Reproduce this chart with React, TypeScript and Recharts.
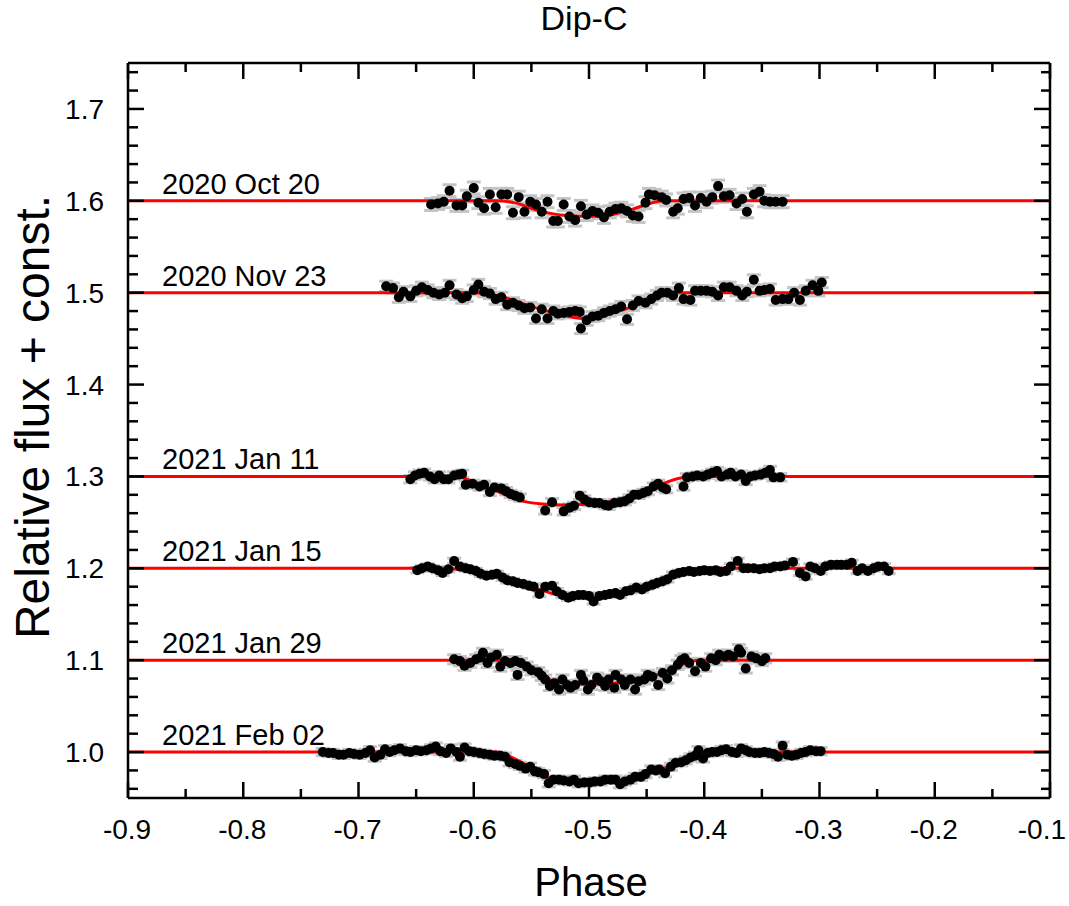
import React from "react";
import {
  ComposedChart,
  XAxis,
  YAxis,
  Scatter,
  Line,
  ErrorBar,
  ReferenceLine
} from "recharts";

type Pt = [number, number];

const FONT = '"Liberation Sans", Arial, Helvetica, sans-serif';

const X_TICKS = [
  -0.9, -0.85, -0.8, -0.75, -0.7, -0.65, -0.6, -0.55, -0.5, -0.45, -0.4,
  -0.35, -0.3, -0.25, -0.2, -0.15, -0.1
];
const Y_TICKS = [
  0.96, 0.98, 1.0, 1.02, 1.04, 1.06, 1.08, 1.1, 1.12, 1.14, 1.16, 1.18, 1.2,
  1.22, 1.24, 1.26, 1.28, 1.3, 1.32, 1.34, 1.36, 1.38, 1.4, 1.42, 1.44, 1.46,
  1.48, 1.5, 1.52, 1.54, 1.56, 1.58, 1.6, 1.62, 1.64, 1.66, 1.68, 1.7, 1.72,
  1.74
];

const DATES = [
  "2020 Oct 20",
  "2020 Nov 23",
  "2021 Jan 11",
  "2021 Jan 15",
  "2021 Jan 29",
  "2021 Feb 02"
];
const OFFSETS = [1.6, 1.5, 1.3, 1.2, 1.1, 1.0];
const ERRORS = [0.0065, 0.0055, 0.004, 0.003, 0.005, 0.004];

// observed points: [phase, relative flux + offset]
const OCT20: Pt[] = [
  [-0.637, 1.596], [-0.631, 1.597], [-0.626, 1.599], [-0.621, 1.611], [-0.615, 1.595],
  [-0.61, 1.595], [-0.606, 1.605], [-0.6, 1.614], [-0.596, 1.598], [-0.591, 1.592],
  [-0.586, 1.607], [-0.581, 1.593], [-0.576, 1.607], [-0.571, 1.607], [-0.566, 1.587],
  [-0.561, 1.604], [-0.556, 1.588], [-0.551, 1.599], [-0.546, 1.596], [-0.541, 1.588],
  [-0.536, 1.599], [-0.531, 1.578], [-0.527, 1.578], [-0.522, 1.596], [-0.517, 1.583],
  [-0.512, 1.579], [-0.507, 1.594], [-0.502, 1.585], [-0.497, 1.589], [-0.492, 1.587],
  [-0.487, 1.582], [-0.482, 1.588], [-0.477, 1.591], [-0.472, 1.592], [-0.467, 1.589],
  [-0.462, 1.584], [-0.457, 1.583], [-0.451, 1.598], [-0.448, 1.607], [-0.443, 1.606],
  [-0.437, 1.604], [-0.433, 1.601], [-0.427, 1.588], [-0.423, 1.592], [-0.418, 1.602],
  [-0.413, 1.603], [-0.408, 1.595], [-0.403, 1.603], [-0.398, 1.599], [-0.393, 1.604],
  [-0.388, 1.616], [-0.383, 1.605], [-0.378, 1.606], [-0.372, 1.597], [-0.367, 1.602],
  [-0.363, 1.588], [-0.357, 1.607], [-0.352, 1.61], [-0.348, 1.6], [-0.343, 1.599],
  [-0.338, 1.599], [-0.332, 1.599]
];

const NOV23: Pt[] = [
  [-0.676, 1.507], [-0.67, 1.505], [-0.665, 1.495], [-0.661, 1.501], [-0.655, 1.496],
  [-0.65, 1.502], [-0.645, 1.506], [-0.64, 1.503], [-0.635, 1.5], [-0.63, 1.498],
  [-0.625, 1.5], [-0.621, 1.508], [-0.615, 1.498], [-0.61, 1.494], [-0.606, 1.496],
  [-0.6, 1.503], [-0.596, 1.509], [-0.591, 1.501], [-0.586, 1.499], [-0.581, 1.493],
  [-0.576, 1.495], [-0.571, 1.487], [-0.566, 1.489], [-0.561, 1.486], [-0.556, 1.483],
  [-0.551, 1.484], [-0.546, 1.472], [-0.541, 1.482], [-0.536, 1.472], [-0.531, 1.48],
  [-0.527, 1.477], [-0.522, 1.478], [-0.517, 1.479], [-0.512, 1.48], [-0.508, 1.479],
  [-0.507, 1.461], [-0.502, 1.47], [-0.497, 1.474], [-0.492, 1.475], [-0.487, 1.478],
  [-0.482, 1.48], [-0.477, 1.482], [-0.472, 1.485], [-0.467, 1.471], [-0.462, 1.486],
  [-0.457, 1.491], [-0.451, 1.489], [-0.446, 1.493], [-0.441, 1.497], [-0.437, 1.5],
  [-0.432, 1.5], [-0.427, 1.497], [-0.422, 1.505], [-0.418, 1.493], [-0.412, 1.492],
  [-0.408, 1.502], [-0.403, 1.502], [-0.398, 1.502], [-0.393, 1.501], [-0.388, 1.497],
  [-0.383, 1.506], [-0.378, 1.506], [-0.372, 1.502], [-0.367, 1.497], [-0.363, 1.501],
  [-0.357, 1.514], [-0.352, 1.502], [-0.348, 1.503], [-0.343, 1.504], [-0.338, 1.492],
  [-0.332, 1.493], [-0.327, 1.493], [-0.322, 1.5], [-0.317, 1.492], [-0.312, 1.502],
  [-0.306, 1.508], [-0.301, 1.502], [-0.298, 1.511]
];

const JAN11: Pt[] = [
  [-0.655, 1.297], [-0.651, 1.301], [-0.647, 1.303], [-0.643, 1.304], [-0.638, 1.3],
  [-0.634, 1.297], [-0.63, 1.301], [-0.626, 1.297], [-0.622, 1.297], [-0.617, 1.301],
  [-0.613, 1.302], [-0.61, 1.303], [-0.607, 1.291], [-0.601, 1.292], [-0.595, 1.289],
  [-0.591, 1.291], [-0.586, 1.283], [-0.582, 1.288], [-0.576, 1.287], [-0.572, 1.284],
  [-0.568, 1.281], [-0.564, 1.279], [-0.56, 1.277], [-0.538, 1.263], [-0.532, 1.272],
  [-0.522, 1.262], [-0.517, 1.266], [-0.513, 1.268], [-0.508, 1.279], [-0.504, 1.275],
  [-0.5, 1.272], [-0.495, 1.271], [-0.491, 1.271], [-0.486, 1.269], [-0.483, 1.268],
  [-0.478, 1.271], [-0.473, 1.272], [-0.469, 1.273], [-0.465, 1.276], [-0.461, 1.28],
  [-0.457, 1.28], [-0.453, 1.282], [-0.449, 1.284], [-0.444, 1.289], [-0.44, 1.292],
  [-0.436, 1.288], [-0.433, 1.286], [-0.418, 1.289], [-0.415, 1.299], [-0.41, 1.3],
  [-0.406, 1.301], [-0.401, 1.3], [-0.397, 1.302], [-0.393, 1.304], [-0.389, 1.306],
  [-0.385, 1.3], [-0.38, 1.302], [-0.377, 1.304], [-0.373, 1.3], [-0.368, 1.302],
  [-0.364, 1.295], [-0.36, 1.3], [-0.356, 1.301], [-0.351, 1.302], [-0.347, 1.304],
  [-0.343, 1.307], [-0.34, 1.299], [-0.334, 1.299]
];

const JAN15: Pt[] = [
  [-0.649, 1.198], [-0.645, 1.2], [-0.64, 1.202], [-0.636, 1.2], [-0.631, 1.198],
  [-0.627, 1.195], [-0.622, 1.199], [-0.617, 1.208], [-0.612, 1.202], [-0.607, 1.2],
  [-0.603, 1.199], [-0.598, 1.197], [-0.594, 1.194], [-0.589, 1.192], [-0.584, 1.193],
  [-0.58, 1.194], [-0.575, 1.19], [-0.571, 1.187], [-0.566, 1.186], [-0.562, 1.184],
  [-0.557, 1.183], [-0.552, 1.181], [-0.548, 1.18], [-0.543, 1.172], [-0.538, 1.18],
  [-0.532, 1.181], [-0.528, 1.175], [-0.523, 1.171], [-0.518, 1.168], [-0.514, 1.17],
  [-0.509, 1.171], [-0.505, 1.171], [-0.5, 1.17], [-0.496, 1.164], [-0.491, 1.17],
  [-0.486, 1.171], [-0.482, 1.172], [-0.477, 1.173], [-0.473, 1.171], [-0.468, 1.175],
  [-0.464, 1.176], [-0.459, 1.179], [-0.454, 1.177], [-0.45, 1.18], [-0.445, 1.182],
  [-0.441, 1.184], [-0.436, 1.186], [-0.432, 1.188], [-0.427, 1.193], [-0.422, 1.195],
  [-0.418, 1.196], [-0.413, 1.197], [-0.409, 1.196], [-0.404, 1.197], [-0.4, 1.198],
  [-0.395, 1.197], [-0.39, 1.198], [-0.386, 1.196], [-0.381, 1.197], [-0.377, 1.202],
  [-0.371, 1.208], [-0.366, 1.2], [-0.362, 1.2], [-0.357, 1.2], [-0.352, 1.199],
  [-0.348, 1.2], [-0.343, 1.2], [-0.339, 1.202], [-0.334, 1.202], [-0.33, 1.203],
  [-0.323, 1.207], [-0.317, 1.195], [-0.312, 1.191], [-0.308, 1.202], [-0.304, 1.2],
  [-0.299, 1.197], [-0.295, 1.202], [-0.29, 1.204], [-0.285, 1.204], [-0.281, 1.204],
  [-0.276, 1.204], [-0.272, 1.206], [-0.267, 1.197], [-0.263, 1.2], [-0.258, 1.197],
  [-0.253, 1.2], [-0.249, 1.202], [-0.244, 1.202], [-0.24, 1.197]
];

const JAN29: Pt[] = [
  [-0.617, 1.101], [-0.612, 1.099], [-0.608, 1.094], [-0.603, 1.097], [-0.598, 1.101],
  [-0.594, 1.103], [-0.592, 1.108], [-0.588, 1.097], [-0.585, 1.103], [-0.58, 1.106],
  [-0.577, 1.093], [-0.573, 1.099], [-0.568, 1.097], [-0.564, 1.099], [-0.562, 1.084],
  [-0.559, 1.097], [-0.554, 1.093], [-0.55, 1.089], [-0.544, 1.087], [-0.541, 1.083],
  [-0.538, 1.079], [-0.534, 1.072], [-0.53, 1.075], [-0.526, 1.068], [-0.523, 1.079],
  [-0.519, 1.073], [-0.516, 1.07], [-0.512, 1.073], [-0.507, 1.084], [-0.505, 1.078],
  [-0.501, 1.068], [-0.498, 1.073], [-0.493, 1.081], [-0.49, 1.077], [-0.486, 1.072],
  [-0.483, 1.079], [-0.478, 1.07], [-0.477, 1.084], [-0.472, 1.079], [-0.469, 1.073],
  [-0.464, 1.079], [-0.46, 1.068], [-0.457, 1.077], [-0.452, 1.079], [-0.449, 1.084],
  [-0.445, 1.082], [-0.44, 1.073], [-0.436, 1.086], [-0.432, 1.08], [-0.428, 1.089],
  [-0.423, 1.095], [-0.42, 1.1], [-0.417, 1.102], [-0.413, 1.097], [-0.408, 1.088],
  [-0.403, 1.097], [-0.399, 1.093], [-0.394, 1.102], [-0.39, 1.1], [-0.387, 1.106],
  [-0.382, 1.104], [-0.379, 1.106], [-0.375, 1.104], [-0.37, 1.112], [-0.368, 1.108],
  [-0.364, 1.091], [-0.359, 1.104], [-0.355, 1.102], [-0.35, 1.099], [-0.347, 1.102]
];

const FEB02: Pt[] = [
  [-0.731, 1.0], [-0.726, 0.999], [-0.722, 0.999], [-0.717, 0.997], [-0.713, 0.997],
  [-0.708, 0.999], [-0.704, 0.998], [-0.699, 0.997], [-0.694, 0.999], [-0.69, 1.002],
  [-0.686, 0.994], [-0.681, 0.997], [-0.677, 1.003], [-0.673, 1.0], [-0.669, 1.002],
  [-0.664, 1.004], [-0.659, 1.001], [-0.655, 1.0], [-0.65, 1.002], [-0.646, 1.001],
  [-0.641, 1.002], [-0.637, 1.004], [-0.633, 1.006], [-0.629, 1.001], [-0.624, 0.999],
  [-0.62, 1.004], [-0.615, 1.0], [-0.612, 0.995], [-0.608, 1.005], [-0.604, 1.001],
  [-0.6, 1.0], [-0.595, 0.999], [-0.591, 0.998], [-0.586, 0.997], [-0.582, 0.996],
  [-0.577, 0.996], [-0.573, 0.995], [-0.569, 0.989], [-0.564, 0.987], [-0.56, 0.985],
  [-0.555, 0.982], [-0.551, 0.984], [-0.547, 0.979], [-0.544, 0.978], [-0.539, 0.976],
  [-0.535, 0.966], [-0.531, 0.97], [-0.526, 0.97], [-0.522, 0.969], [-0.517, 0.968],
  [-0.513, 0.97], [-0.509, 0.966], [-0.504, 0.967], [-0.499, 0.967], [-0.495, 0.968],
  [-0.49, 0.968], [-0.486, 0.97], [-0.481, 0.97], [-0.477, 0.97], [-0.473, 0.965],
  [-0.469, 0.968], [-0.464, 0.97], [-0.46, 0.973], [-0.455, 0.973], [-0.451, 0.976],
  [-0.446, 0.981], [-0.442, 0.98], [-0.439, 0.981], [-0.434, 0.977], [-0.429, 0.984],
  [-0.425, 0.988], [-0.42, 0.989], [-0.416, 0.991], [-0.412, 0.994], [-0.408, 0.996],
  [-0.405, 1.002], [-0.401, 0.993], [-0.397, 0.999], [-0.393, 1.0], [-0.389, 1.0],
  [-0.385, 1.002], [-0.381, 1.003], [-0.376, 1.0], [-0.372, 0.999], [-0.368, 1.004],
  [-0.364, 1.002], [-0.361, 1.0], [-0.356, 0.999], [-0.352, 0.999], [-0.348, 1.0],
  [-0.344, 0.999], [-0.34, 0.998], [-0.336, 0.995], [-0.332, 1.007], [-0.328, 0.997],
  [-0.324, 0.996], [-0.32, 0.997], [-0.316, 0.999], [-0.312, 1.0], [-0.308, 1.002],
  [-0.303, 1.001], [-0.299, 1.001]
];

// fitted dip model, node points
const OCT20_FIT: Pt[] = [
  [-0.9, 1.6], [-0.58, 1.6], [-0.565, 1.598], [-0.543, 1.589], [-0.52, 1.584],
  [-0.5, 1.583], [-0.48, 1.585], [-0.462, 1.591], [-0.45, 1.596], [-0.436, 1.6],
  [-0.1, 1.6]
];
const NOV23_FIT: Pt[] = [
  [-0.9, 1.5], [-0.6, 1.5], [-0.58, 1.497], [-0.55, 1.485], [-0.53, 1.478],
  [-0.505, 1.472], [-0.48, 1.478], [-0.46, 1.486], [-0.44, 1.496], [-0.425, 1.5],
  [-0.1, 1.5]
];
const JAN11_FIT: Pt[] = [
  [-0.9, 1.3], [-0.615, 1.3], [-0.6, 1.294], [-0.58, 1.284], [-0.56, 1.274],
  [-0.54, 1.27], [-0.52, 1.269], [-0.5, 1.27], [-0.48, 1.273], [-0.46, 1.28],
  [-0.44, 1.29], [-0.425, 1.297], [-0.41, 1.3], [-0.1, 1.3]
];
const JAN15_FIT: Pt[] = [
  [-0.9, 1.2], [-0.625, 1.2], [-0.6, 1.196], [-0.575, 1.189], [-0.55, 1.18],
  [-0.53, 1.172], [-0.51, 1.168], [-0.495, 1.168], [-0.47, 1.174], [-0.45, 1.181],
  [-0.43, 1.19], [-0.41, 1.197], [-0.39, 1.2], [-0.1, 1.2]
];
const JAN29_FIT: Pt[] = [
  [-0.9, 1.1], [-0.575, 1.1], [-0.56, 1.094], [-0.545, 1.085], [-0.53, 1.077],
  [-0.51, 1.074], [-0.49, 1.074], [-0.47, 1.076], [-0.45, 1.08], [-0.435, 1.087],
  [-0.42, 1.095], [-0.405, 1.1], [-0.1, 1.1]
];
const FEB02_FIT: Pt[] = [
  [-0.9, 1.0], [-0.58, 1.0], [-0.565, 0.993], [-0.55, 0.983], [-0.535, 0.972],
  [-0.52, 0.968], [-0.5, 0.967], [-0.48, 0.968], [-0.46, 0.972], [-0.44, 0.98],
  [-0.42, 0.99], [-0.405, 0.998], [-0.39, 1.0], [-0.1, 1.0]
];

const SERIES = [OCT20, NOV23, JAN11, JAN15, JAN29, FEB02];
const FITS = [OCT20_FIT, NOV23_FIT, JAN11_FIT, JAN15_FIT, JAN29_FIT, FEB02_FIT];

const isMajor = (v: number) => Math.abs(v * 10 - Math.round(v * 10)) < 1e-6;
const AXIS = { stroke: "#000", strokeWidth: 2.5 };

const BottomTick = ({ x, y, payload }: any) => {
  const major = isMajor(payload.value);
  // the last label sits at the page edge, so it is right-aligned there
  const last = payload.value === X_TICKS[X_TICKS.length - 1];
  return (
    <g>
      <line x1={x} y1={y} x2={x} y2={y - (major ? 16 : 9)} stroke="#000" strokeWidth={2.5} />
      {major && (
        <text
          x={last ? x + 16 : x - 1}
          y={y + 41}
          textAnchor={last ? "end" : "middle"}
          fontSize={28}
          fontFamily={FONT}
          fill="#000"
        >
          {payload.value.toFixed(1)}
        </text>
      )}
    </g>
  );
};

const TopTick = ({ x, y, payload }: any) => (
  <line x1={x} y1={y} x2={x} y2={y + (isMajor(payload.value) ? 16 : 9)} stroke="#000" strokeWidth={2.5} />
);

const LeftTick = ({ x, y, payload }: any) => {
  const major = isMajor(payload.value);
  return (
    <g>
      <line x1={x} y1={y} x2={x + (major ? 16 : 10)} y2={y} stroke="#000" strokeWidth={2.5} />
      {major && (
        <text x={x - 24} y={y + 10} textAnchor="end" fontSize={28} fontFamily={FONT} fill="#000">
          {payload.value.toFixed(1)}
        </text>
      )}
    </g>
  );
};

const RightTick = ({ x, y, payload }: any) => (
  <line x1={x} y1={y} x2={x - (isMajor(payload.value) ? 16 : 9)} y2={y} stroke="#000" strokeWidth={2.5} />
);

const Dot = ({ cx, cy }: any) => <circle cx={cx} cy={cy} r={5} fill="#000" />;

export default function App() {
  const points = SERIES.flatMap((s, i) =>
    s.map(([p, v]) => ({ p, v, e: ERRORS[i] }))
  );

  return (
    <div
      style={{
        position: "absolute",
        left: 0,
        top: 0,
        width: 1069,
        height: 906,
        background: "#fff"
      }}
    >
      <ComposedChart
        width={1069}
        height={906}
        margin={{ top: 58, right: 14, bottom: 58, left: 50 }}
      >
        <XAxis
          xAxisId={0}
          dataKey="p"
          type="number"
          domain={[-0.9, -0.1]}
          ticks={X_TICKS}
          interval={0}
          allowDataOverflow
          height={50}
          tickSize={0}
          tickMargin={0}
          tickLine={false}
          axisLine={AXIS}
          tick={BottomTick}
        />
        <XAxis
          xAxisId="top"
          orientation="top"
          dataKey="p"
          type="number"
          domain={[-0.9, -0.1]}
          ticks={X_TICKS}
          interval={0}
          allowDataOverflow
          height={5}
          tickSize={0}
          tickMargin={0}
          tickLine={false}
          axisLine={AXIS}
          tick={TopTick}
        />
        <YAxis
          yAxisId={0}
          dataKey="v"
          type="number"
          domain={[0.95, 1.75]}
          ticks={Y_TICKS}
          interval={0}
          allowDataOverflow
          width={78}
          tickSize={0}
          tickMargin={0}
          tickLine={false}
          axisLine={AXIS}
          tick={LeftTick}
        />
        <YAxis
          yAxisId="right"
          orientation="right"
          dataKey="v"
          type="number"
          domain={[0.95, 1.75]}
          ticks={Y_TICKS}
          interval={0}
          allowDataOverflow
          width={5}
          tickSize={0}
          tickMargin={0}
          tickLine={false}
          axisLine={AXIS}
          tick={RightTick}
        />

        <Scatter data={points} isAnimationActive={false} shape={() => <g />}>
          <ErrorBar dataKey="e" direction="y" width={7} stroke="#c4c4c4" strokeWidth={3} isAnimationActive={false} />
        </Scatter>

        {FITS.map((fit, i) => (
          <Line
            key={DATES[i]}
            data={fit.map(([p, v]) => ({ p, v }))}
            dataKey="v"
            type="monotone"
            stroke="#ff0000"
            strokeWidth={3}
            dot={false}
            activeDot={false}
            isAnimationActive={false}
          />
        ))}

        <Scatter data={points} isAnimationActive={false} shape={Dot} />

        {OFFSETS.map((o, i) => (
          <ReferenceLine
            key={DATES[i]}
            y={o}
            stroke="none"
            label={{
              content: (props: any) => (
                <text
                  x={props.viewBox.x + 34}
                  y={props.viewBox.y - 7}
                  fontSize={29}
                  fontFamily={FONT}
                  fill="#000"
                >
                  {DATES[i]}
                </text>
              )
            }}
          />
        ))}
      </ComposedChart>

      <svg
        width={1069}
        height={906}
        style={{ position: "absolute", left: 0, top: 0, pointerEvents: "none" }}
      >
        <text x={584} y={30} textAnchor="middle" fontSize={34} fontFamily={FONT} fill="#000">
          Dip-C
        </text>
        <text x={591} y={896} textAnchor="middle" fontSize={40} fontFamily={FONT} fill="#000">
          Phase
        </text>
        <text
          x={0}
          y={0}
          transform="translate(49,417) rotate(-90)"
          textAnchor="middle"
          fontSize={48}
          fontFamily={FONT}
          fill="#000"
        >
          Relative flux + const.
        </text>
      </svg>
    </div>
  );
}
